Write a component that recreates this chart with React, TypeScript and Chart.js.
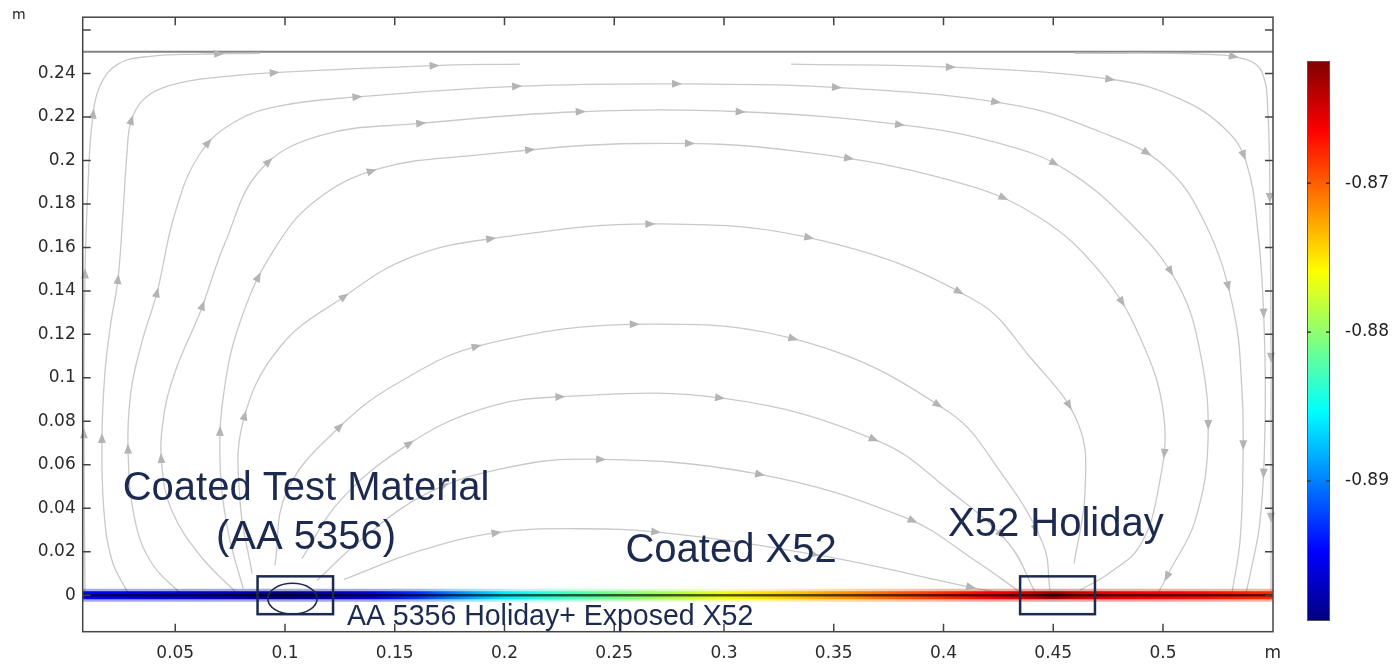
import React, { useEffect, useRef } from 'react';
import { Chart, registerables } from 'chart.js';

Chart.register(...registerables);

// ---------- axes ----------
const X_MIN = 0.00784;
const X_MAX = 0.55011;
const Y_MIN = -0.01676;
const Y_MAX = 0.26589;
const xTicks = [0.05, 0.1, 0.15, 0.2, 0.25, 0.3, 0.35, 0.4, 0.45, 0.5, 0.55];
const xTickLabels = ['0.05', '0.1', '0.15', '0.2', '0.25', '0.3', '0.35', '0.4', '0.45', '0.5', 'm'];
const yTicks = [0, 0.02, 0.04, 0.06, 0.08, 0.1, 0.12, 0.14, 0.16, 0.18, 0.2, 0.22, 0.24, 0.26];
const yTickLabels = ['0', '0.02', '0.04', '0.06', '0.08', '0.1', '0.12', '0.14', '0.16', '0.18', '0.2', '0.22', '0.24', ''];
const yUnit = 'm';

// ---------- colour range (electrolyte potential, V) ----------
const PHI_MIN = -0.8994;
const PHI_MAX = -0.8618;
const cbTicks = [-0.87, -0.88, -0.89];
const cbTickLabels = ['-0.87', '-0.88', '-0.89'];

// ---------- potential along the bottom boundary ----------
const bandX = [0.008, 0.03, 0.06, 0.085, 0.1, 0.115, 0.14, 0.16, 0.18, 0.2, 0.22, 0.25, 0.28, 0.3, 0.33, 0.36, 0.39, 0.42, 0.44, 0.45, 0.46, 0.48, 0.5, 0.52, 0.55];
const bandPhi = [-0.895, -0.8955, -0.8965, -0.898, -0.8992, -0.898, -0.896, -0.893, -0.8895, -0.886, -0.8835, -0.881, -0.8785, -0.8765, -0.874, -0.8715, -0.869, -0.8665, -0.8645, -0.8625, -0.8645, -0.866, -0.8665, -0.867, -0.868];

// top boundary of the electrolyte
const topBoundaryY = 0.25;

// ---------- current streamlines ----------
const s1ax = [0.0089, 0.0084, 0.0089, 0.0103, 0.0121, 0.0157, 0.0239, 0.0385, 0.0613, 0.0886];
const s1ay = [0.0009, 0.0799, 0.1484, 0.1895, 0.2169, 0.2342, 0.2443, 0.2479, 0.2489, 0.2493];

const s1bx = [0.4595, 0.5169, 0.5374, 0.5451, 0.5478, 0.5487, 0.5492, 0.5492, 0.5492];
const s1by = [0.2493, 0.2489, 0.2466, 0.2406, 0.2215, 0.1804, 0.1119, 0.0434, 0.0009];

const s2ax = [0.0285, 0.0212, 0.0175, 0.0166, 0.018, 0.0207, 0.0239, 0.0262, 0.028, 0.0298, 0.0349, 0.044, 0.0613, 0.0991, 0.1729, 0.2071];
const s2ay = [0.0009, 0.016, 0.0388, 0.0721, 0.1027, 0.1256, 0.1452, 0.1758, 0.2032, 0.2178, 0.2274, 0.2333, 0.2374, 0.2406, 0.2438, 0.2443];

const s2bx = [0.3305, 0.4039, 0.4786, 0.5077, 0.5282, 0.5378, 0.5433, 0.546, 0.5465, 0.5442, 0.5396, 0.5378];
const s2by = [0.2443, 0.2429, 0.237, 0.2283, 0.2146, 0.1995, 0.1667, 0.1256, 0.0799, 0.0342, 0.0091, 0.0009];

const s3x = [0.0522, 0.0394, 0.0317, 0.0285, 0.0298, 0.0348, 0.0417, 0.0499, 0.0613, 0.0772, 0.0977, 0.1328, 0.208, 0.2827, 0.3565, 0.4317, 0.4713, 0.5004, 0.5191, 0.5319, 0.536, 0.5364, 0.5351, 0.5314];
const s3y = [0.0009, 0.0146, 0.0342, 0.0662, 0.0936, 0.1164, 0.1393, 0.1758, 0.2032, 0.2178, 0.2251, 0.2292, 0.2342, 0.2352, 0.2333, 0.2256, 0.2132, 0.1977, 0.1712, 0.1324, 0.0936, 0.0584, 0.0251, 0.0009];

const s4x = [0.0781, 0.0613, 0.0485, 0.044, 0.0444, 0.0499, 0.0613, 0.0727, 0.0886, 0.1159, 0.1601, 0.2339, 0.3077, 0.3838, 0.4257, 0.4554, 0.485, 0.5064, 0.5169, 0.5205, 0.5146, 0.5032, 0.4977];
const s4y = [0.0009, 0.0183, 0.0388, 0.0584, 0.0799, 0.1027, 0.1301, 0.1621, 0.1954, 0.2114, 0.2169, 0.2224, 0.2224, 0.216, 0.2078, 0.1959, 0.1712, 0.1438, 0.1119, 0.0708, 0.0342, 0.0114, 0.0009];

const s5x = [0.0809, 0.074, 0.0704, 0.0722, 0.0795, 0.0941, 0.1137, 0.1433, 0.1861, 0.2613, 0.3346, 0.408, 0.444, 0.4708, 0.4895, 0.5004, 0.4977, 0.4895, 0.4759, 0.4622];
const s5y = [0.0032, 0.0297, 0.0616, 0.0936, 0.1256, 0.1575, 0.1813, 0.1963, 0.2023, 0.2078, 0.2041, 0.1895, 0.1735, 0.1493, 0.1187, 0.0822, 0.0479, 0.0228, 0.0105, 0.0023];

const s6x = [0.085, 0.0795, 0.0809, 0.0977, 0.1264, 0.1569, 0.1966, 0.2709, 0.3451, 0.4144, 0.4394, 0.4613, 0.4645, 0.4595];
const s6y = [0.01, 0.0434, 0.0799, 0.1142, 0.137, 0.1553, 0.1644, 0.1708, 0.163, 0.1356, 0.1096, 0.079, 0.0479, 0.0146];

const s7x = [0.0954, 0.1009, 0.125, 0.1524, 0.1897, 0.2636, 0.3374, 0.4021, 0.4257, 0.4453, 0.4485];
const s7y = [0.0137, 0.0479, 0.0776, 0.0982, 0.1151, 0.1247, 0.1164, 0.0845, 0.0571, 0.0237, 0.0023];

const s8x = [0.1077, 0.125, 0.1547, 0.1888, 0.2244, 0.3009, 0.3706, 0.403, 0.4298, 0.4417];
const s8y = [0.0169, 0.0434, 0.0685, 0.0854, 0.0913, 0.0904, 0.0708, 0.0479, 0.0237, 0.0014];

const s9x = [0.1146, 0.1342, 0.1642, 0.1979, 0.2367, 0.3132, 0.3829, 0.4144, 0.4349];
const s9y = [0.0068, 0.0251, 0.0466, 0.058, 0.0626, 0.0562, 0.0356, 0.016, 0.0014];

const s10x = [0.1269, 0.1615, 0.1966, 0.2344, 0.2718, 0.3437, 0.4194, 0.4326];
const s10y = [0.0073, 0.0205, 0.0288, 0.0306, 0.0288, 0.0183, 0.0023, 0.0005];

const streamlines = [
  [s1ax, s1ay], [s1bx, s1by], [s2ax, s2ay], [s2bx, s2by], [s3x, s3y], [s4x, s4y], [s5x, s5y],
  [s6x, s6y], [s7x, s7y], [s8x, s8y], [s9x, s9y], [s10x, s10y],
];

// ---------- annotations ----------
const noteTexts = ['Coated Test Material', '(AA 5356)', 'Coated X52', 'X52 Holiday', 'AA 5356 Holiday+ Exposed X52'];
const noteX = [0.1096, 0.1096, 0.3032, 0.4512, 0.1282];
const noteY = [0.0436, 0.0215, 0.0151, 0.0274, -0.0137];
const holidayBoxX0 = [0.0875, 0.4349];
const holidayBoxX1 = [0.1219, 0.469];
const holidayBoxHalfH = 0.0087;
const ellipseC = [0.1034, -0.0016];
const ellipseR = [0.0112, 0.0071];

// ---------- styles ----------
const TICK_FONT = "'DejaVu Sans', sans-serif";
const NOTE_FONT = "'Liberation Sans', Arial, sans-serif";
const NAVY = '#1b2a4e';
const STREAM_COLOR = '#c9c9c9';
const ARROW_COLOR = '#b4b4b4';
const ARROW_GAP = 160;
const CB = { left: 1307, right: 1330, top: 61, bottom: 621 };

const clamp = (v: number, a = 0, b = 1) => Math.max(a, Math.min(b, v));
function jet(t: number): [number, number, number] {
  t = clamp(t);
  return [
    clamp(1.5 - Math.abs(4 * t - 3)),
    clamp(1.5 - Math.abs(4 * t - 2)),
    clamp(1.5 - Math.abs(4 * t - 1)),
  ];
}
const tOf = (phi: number) => (phi - PHI_MIN) / (PHI_MAX - PHI_MIN);
function jetCss(t: number, f = 1, a = 1) {
  const [r, g, b] = jet(t);
  return `rgba(${Math.round(r * 255 * f)},${Math.round(g * 255 * f)},${Math.round(b * 255 * f)},${a})`;
}

function bandGradient(chart: any, f: number, a: number) {
  const { ctx, chartArea, scales } = chart;
  if (!chartArea || !scales.x) return '#0000ff';
  const x0 = scales.x.getPixelForValue(bandX[0]);
  const x1 = scales.x.getPixelForValue(bandX[bandX.length - 1]);
  const g = ctx.createLinearGradient(x0, 0, x1, 0);
  bandX.forEach((v: number, i: number) => {
    const p = clamp((scales.x.getPixelForValue(v) - x0) / (x1 - x0));
    g.addColorStop(p, jetCss(tOf(bandPhi[i]), f, a));
  });
  return g;
}

function sampleCurve(pts: any[]) {
  const out: number[][] = [];
  for (let i = 0; i < pts.length - 1; i++) {
    const p0 = pts[i], p1 = pts[i + 1];
    const c1x = p0.cp2x ?? p0.x, c1y = p0.cp2y ?? p0.y;
    const c2x = p1.cp1x ?? p1.x, c2y = p1.cp1y ?? p1.y;
    for (let k = 0; k < 16; k++) {
      const t = k / 16, u = 1 - t;
      out.push([
        u * u * u * p0.x + 3 * u * u * t * c1x + 3 * u * t * t * c2x + t * t * t * p1.x,
        u * u * u * p0.y + 3 * u * u * t * c1y + 3 * u * t * t * c2y + t * t * t * p1.y,
      ]);
    }
  }
  const last = pts[pts.length - 1];
  out.push([last.x, last.y]);
  return out;
}

function drawArrow(ctx: CanvasRenderingContext2D, x: number, y: number, dx: number, dy: number) {
  const L = 10, W = 4;
  const nx = -dy, ny = dx;
  ctx.beginPath();
  ctx.moveTo(x + dx * L * 0.5, y + dy * L * 0.5);
  ctx.lineTo(x - dx * L * 0.5 + nx * W, y - dy * L * 0.5 + ny * W);
  ctx.lineTo(x - dx * L * 0.5 - nx * W, y - dy * L * 0.5 - ny * W);
  ctx.closePath();
  ctx.fill();
}

const decorPlugin = {
  id: 'decor',
  afterDatasetsDraw(chart: any) {
    const { ctx, chartArea: ca, scales } = chart;
    const sx = scales.x, sy = scales.y;
    // streamline arrows
    ctx.save();
    ctx.fillStyle = ARROW_COLOR;
    chart.data.datasets.forEach((ds: any, i: number) => {
      if (!ds.stream) return;
      const path = sampleCurve(chart.getDatasetMeta(i).data);
      let total = 0;
      for (let k = 1; k < path.length; k++) total += Math.hypot(path[k][0] - path[k - 1][0], path[k][1] - path[k - 1][1]);
      let acc = 0, next = ARROW_GAP;
      for (let k = 1; k < path.length; k++) {
        const [ax, ay] = path[k - 1], [bx, by] = path[k];
        const seg = Math.hypot(bx - ax, by - ay);
        if (seg < 1e-6) continue;
        while (acc + seg >= next && next < total - 12) {
          const f = (next - acc) / seg;
          drawArrow(ctx, ax + (bx - ax) * f, ay + (by - ay) * f, (bx - ax) / seg, (by - ay) / seg);
          next += ARROW_GAP;
        }
        acc += seg;
      }
    });
    ctx.restore();

    // frame and inward ticks
    ctx.save();
    ctx.strokeStyle = '#444';
    ctx.lineWidth = 1.5;
    ctx.strokeRect(ca.left, ca.top, ca.right - ca.left, ca.bottom - ca.top);
    ctx.beginPath();
    const TL = 8;
    xTicks.forEach((v) => {
      const px = sx.getPixelForValue(v);
      if (px > ca.right - 2) return;
      ctx.moveTo(px, ca.bottom); ctx.lineTo(px, ca.bottom - TL);
      ctx.moveTo(px, ca.top); ctx.lineTo(px, ca.top + TL);
    });
    yTicks.forEach((v) => {
      const py = sy.getPixelForValue(v);
      ctx.moveTo(ca.left, py); ctx.lineTo(ca.left + TL, py);
      ctx.moveTo(ca.right, py); ctx.lineTo(ca.right - TL, py);
    });
    ctx.stroke();
    ctx.restore();

    // holiday boxes and ellipse
    ctx.save();
    ctx.strokeStyle = NAVY;
    ctx.lineWidth = 2.5;
    holidayBoxX0.forEach((x0, i) => {
      const l = sx.getPixelForValue(x0), r = sx.getPixelForValue(holidayBoxX1[i]);
      const t = sy.getPixelForValue(holidayBoxHalfH), b = sy.getPixelForValue(-holidayBoxHalfH);
      ctx.strokeRect(l, t, r - l, b - t);
    });
    ctx.lineWidth = 1.6;
    const ecx = sx.getPixelForValue(ellipseC[0]), ecy = sy.getPixelForValue(ellipseC[1]);
    const erx = sx.getPixelForValue(ellipseC[0] + ellipseR[0]) - ecx;
    const ery = ecy - sy.getPixelForValue(ellipseC[1] + ellipseR[1]);
    ctx.beginPath();
    ctx.ellipse(ecx, ecy, erx, ery, 0, 0, Math.PI * 2);
    ctx.stroke();

    // notes
    ctx.fillStyle = NAVY;
    ctx.textBaseline = 'alphabetic';
    noteTexts.forEach((txt, i) => {
      const small = i === 4;
      ctx.font = `${small ? 30 : 40}px ${NOTE_FONT}`;
      ctx.textAlign = small ? 'left' : 'center';
      ctx.save();
      ctx.translate(sx.getPixelForValue(noteX[i]), sy.getPixelForValue(noteY[i]));
      ctx.scale(small ? 0.95 : 1, 1);
      ctx.fillText(txt, 0, 0);
      ctx.restore();
    });
    ctx.restore();
  },
  afterDraw(chart: any) {
    const { ctx } = chart;
    ctx.save();
    // colour bar
    const g = ctx.createLinearGradient(0, CB.bottom, 0, CB.top);
    for (let k = 0; k <= 40; k++) g.addColorStop(k / 40, jetCss(k / 40));
    ctx.fillStyle = g;
    ctx.fillRect(CB.left, CB.top, CB.right - CB.left, CB.bottom - CB.top);
    ctx.strokeStyle = '#555';
    ctx.lineWidth = 1;
    ctx.strokeRect(CB.left + 0.5, CB.top + 0.5, CB.right - CB.left - 1, CB.bottom - CB.top - 1);
    ctx.fillStyle = '#222';
    ctx.font = `17px ${TICK_FONT}`;
    ctx.textAlign = 'left';
    ctx.textBaseline = 'middle';
    ctx.strokeStyle = '#222';
    ctx.lineWidth = 1.2;
    cbTicks.forEach((v, i) => {
      const py = CB.top + (PHI_MAX - v) / (PHI_MAX - PHI_MIN) * (CB.bottom - CB.top);
      ctx.beginPath();
      ctx.moveTo(CB.left, py); ctx.lineTo(CB.left + 4, py);
      ctx.moveTo(CB.right, py); ctx.lineTo(CB.right - 4, py);
      ctx.stroke();
      ctx.fillText(cbTickLabels[i], CB.right + 15, py);
    });
    // y unit
    ctx.font = `14px ${TICK_FONT}`;
    ctx.textBaseline = 'alphabetic';
    ctx.fillText(yUnit, 12, 19);
    ctx.restore();
  },
};

export default function App() {
  const ref = useRef<HTMLCanvasElement>(null);
  useEffect(() => {
    if (!ref.current) return;
    const streamSets = streamlines.map(([xs, ys]) => ({
      data: xs.map((x: number, i: number) => ({ x, y: ys[i] })),
      borderColor: STREAM_COLOR,
      borderWidth: 1.3,
      tension: 0.4,
      pointRadius: 0,
      fill: false,
      order: 5,
      stream: true,
    }));
    const bandData = bandX.map((x) => ({ x, y: 0 }));
    const chart = new Chart(ref.current, {
      type: 'line',
      data: {
        datasets: [
          { data: bandData, borderColor: (c: any) => bandGradient(c.chart, 0.35, 1), borderWidth: 2.5, tension: 0, pointRadius: 0, borderCapStyle: 'butt', order: 0 } as any,
          { data: bandData, borderColor: (c: any) => bandGradient(c.chart, 1, 1), borderWidth: 8, tension: 0, pointRadius: 0, borderCapStyle: 'butt', order: 1 } as any,
          { data: bandData, borderColor: (c: any) => bandGradient(c.chart, 1, 0.35), borderWidth: 13, tension: 0, pointRadius: 0, borderCapStyle: 'butt', order: 2 } as any,
          ...streamSets,
          { data: [{ x: X_MIN, y: topBoundaryY }, { x: X_MAX, y: topBoundaryY }], borderColor: '#848484', borderWidth: 2, pointRadius: 0, order: 6 } as any,
        ],
      },
      options: {
        responsive: false,
        animation: false,
        devicePixelRatio: 1,
        layout: { padding: { left: 0, top: 12.7, right: 126, bottom: 0 } },
        plugins: { legend: { display: false }, tooltip: { enabled: false } },
        events: [],
        elements: { point: { radius: 0 } },
        scales: {
          x: {
            type: 'linear',
            min: X_MIN,
            max: X_MAX,
            afterBuildTicks: (s: any) => { s.ticks = xTicks.map((v) => ({ value: v })); },
            afterFit: (s: any) => { s.height = 32.3; },
            grid: { display: false, drawTicks: false },
            border: { display: false },
            ticks: {
              autoSkip: false,
              maxRotation: 0,
              padding: 12,
              color: '#2b2b2b',
              font: { family: TICK_FONT, size: 17 },
              callback: (_v: any, i: number) => xTickLabels[i],
            },
          },
          y: {
            type: 'linear',
            min: Y_MIN,
            max: Y_MAX,
            afterBuildTicks: (s: any) => { s.ticks = yTicks.map((v) => ({ value: v })); },
            afterFit: (s: any) => { s.width = 82.7; },
            grid: { display: false, drawTicks: false },
            border: { display: false },
            ticks: {
              autoSkip: false,
              padding: 7,
              color: '#2b2b2b',
              font: { family: TICK_FONT, size: 17 },
              callback: (_v: any, i: number) => yTickLabels[i],
            },
          },
        },
      } as any,
      plugins: [decorPlugin],
    });
    return () => chart.destroy();
  }, []);
  return (
    <div style={{ position: 'fixed', left: 0, top: 0, width: 1399, height: 664, background: '#fff' }}>
      <canvas ref={ref} width={1399} height={664} style={{ display: 'block', width: 1399, height: 664 }} />
    </div>
  );
}
